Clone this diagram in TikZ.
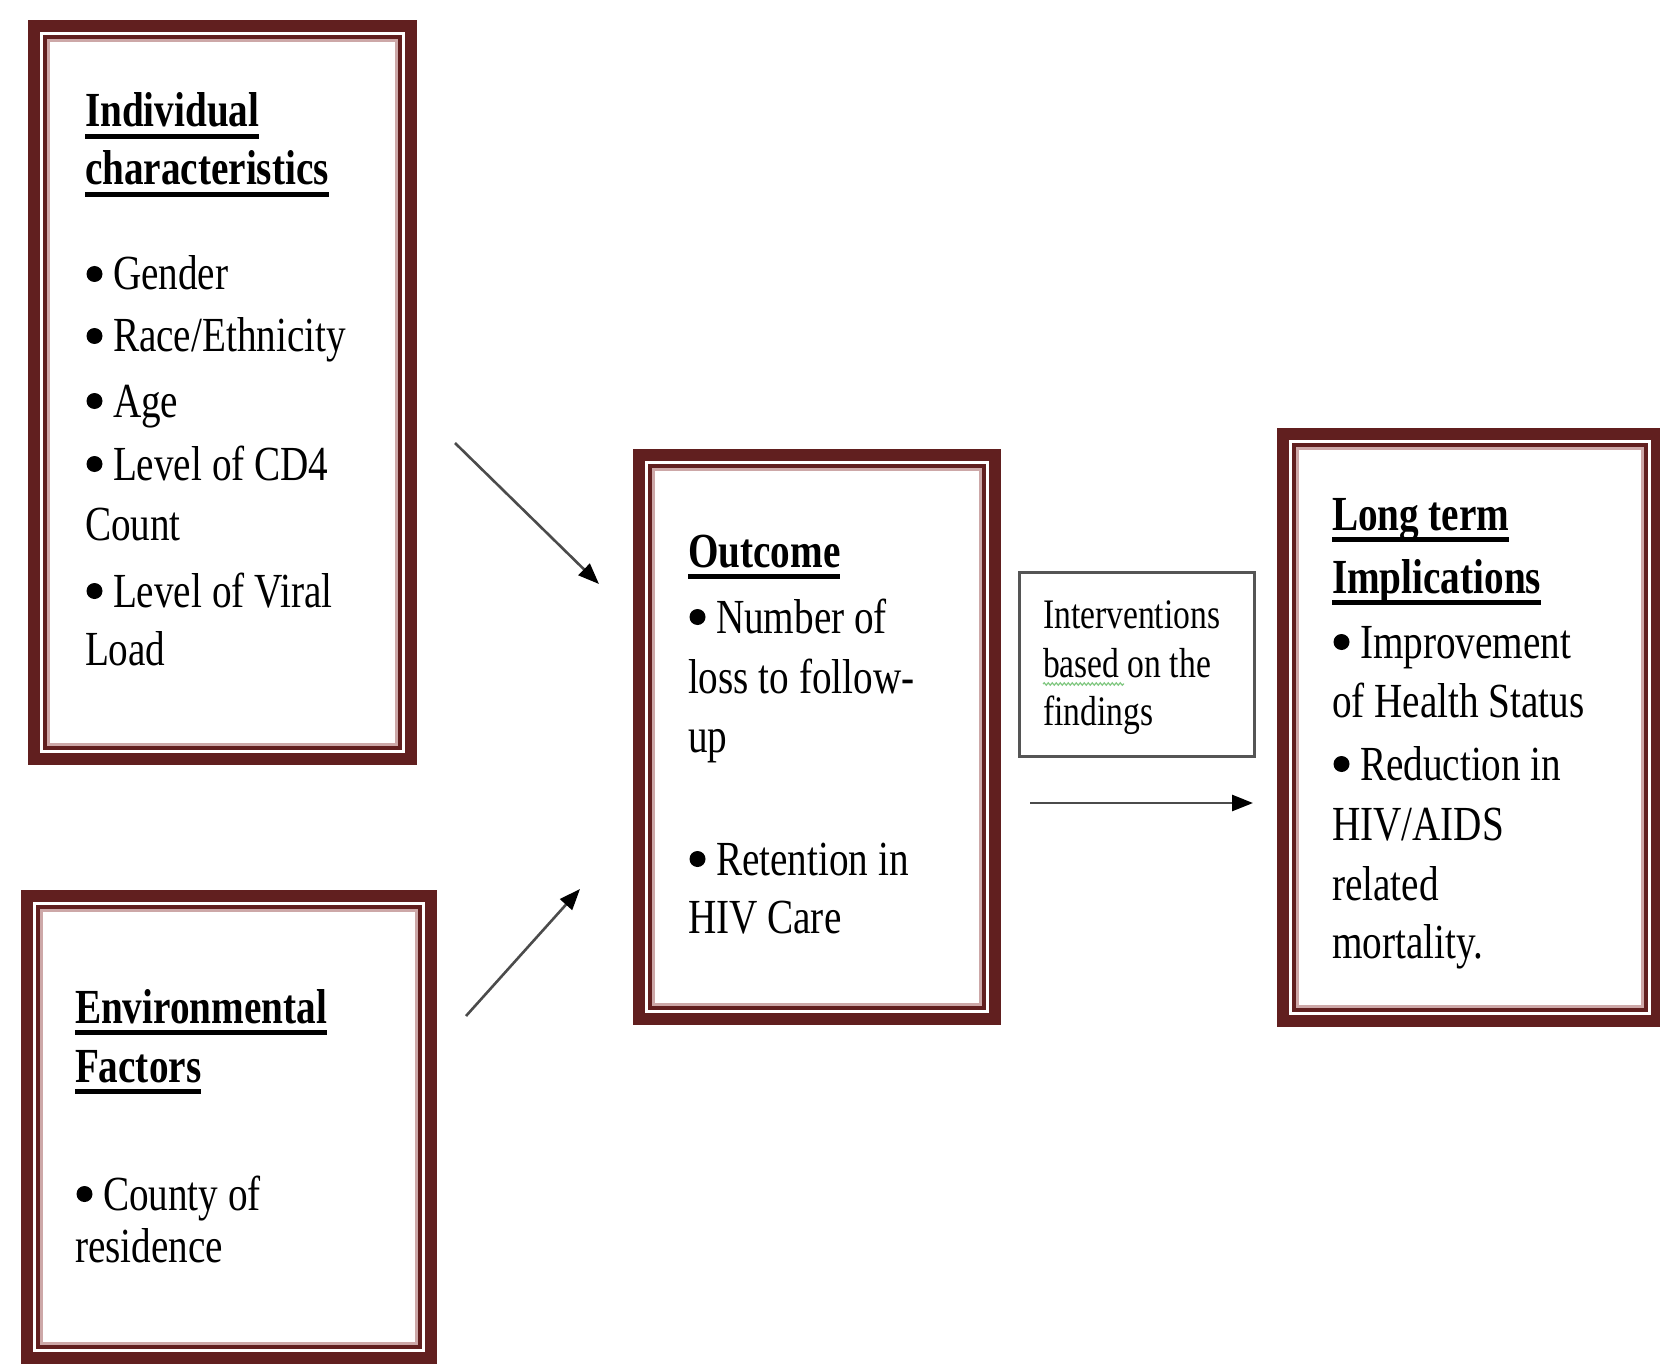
\documentclass[tikz,border=0pt]{standalone}
\usepackage{fontspec}
\setmainfont{Liberation Serif}[FakeStretch=0.8]
\usetikzlibrary{arrows.meta,decorations.pathmorphing}
\definecolor{brd}{RGB}{97,31,31}
\definecolor{brdpale}{RGB}{205,168,168}
\definecolor{arrgray}{RGB}{75,75,75}
\definecolor{boxgray}{RGB}{85,85,85}
\definecolor{spell}{RGB}{130,200,130}
\newcommand\myul[1]{\setbox0\hbox{#1}\rlap{\rule[-12pt]{\wd0}{5pt}}\box0}
\newcommand\bu{\hspace*{28pt}}
\newcommand\inframes[1]{%
  \draw[brd, line width=4pt] ([shift={(11,11)}]#1.north west) rectangle ([shift={(-11,-11)}]#1.south east);
  \draw[brdpale, line width=2.5pt] ([shift={(14.5,14.5)}]#1.north west) rectangle ([shift={(-14.5,-14.5)}]#1.south east);}
\tikzset{
  frame/.style={draw=brd, line width=12pt, inner sep=0pt, outer sep=0pt, anchor=north west, rectangle},
  txt/.style={anchor=base west, inner sep=0pt, outer sep=0pt, font=\fontsize{49}{60}\selectfont},
  stxt/.style={anchor=base west, inner sep=0pt, outer sep=0pt, font=\fontsize{42}{49}\selectfont},
  arr/.style={draw=arrgray, line width=2.6pt, -{Triangle[length=21pt,width=16pt,color=black]}},
  bulletdot/.style={fill=black},
}
\begin{document}
\begin{tikzpicture}[x=1pt,y=-1pt]
\useasboundingbox (0,0) rectangle (1660,1364);
% boxes
\node[frame, minimum width=377pt, minimum height=733pt] (b1) at (34,26) {};
\inframes{b1}
\node[frame, minimum width=404pt, minimum height=462pt] (b2) at (27,896) {};
\inframes{b2}
\node[frame, minimum width=356pt, minimum height=564pt] (b3) at (639,455) {};
\inframes{b3}
\node[frame, minimum width=374pt, minimum height=587pt] (b4) at (1283,434) {};
\inframes{b4}
\node[draw=boxgray, line width=3pt, inner sep=0pt, outer sep=0pt, anchor=north west, minimum width=235pt, minimum height=184pt] (ib) at (1019.5,572.5) {};
% box 1 text
\node[txt] (t11) at (85,127) {\textbf{\myul{Individual}}};
\node[txt] (t12) at (85,185) {\textbf{\myul{characteristics}}};
\node[txt] (t13) at (85,290) {\bu Gender};
\node[txt] (t14) at (85,352) {\bu Race/Ethnicity};
\node[txt] (t15) at (85,417) {\bu Age};
\node[txt] (t16) at (85,480) {\bu Level of CD4};
\node[txt] (t17) at (85,540) {Count};
\node[txt] (t18) at (85,607) {\bu Level of Viral};
\node[txt] (t19) at (85,665) {Load};
% box 2 text
\node[txt] (t21) at (75,1023) {\textbf{\myul{Environmental}}};
\node[txt] (t22) at (75,1082) {\textbf{\myul{Factors}}};
\node[txt] (t23) at (75,1210) {\bu County of};
\node[txt] (t24) at (75,1262) {residence};
% box 3 text
\node[txt] (t31) at (688,567) {\textbf{\myul{Outcome}}};
\node[txt] (t32) at (688,633) {\bu Number of};
\node[txt] (t33) at (688,693) {loss to follow-};
\node[txt] (t34) at (688,752) {up};
\node[txt] (t35) at (688,875) {\bu Retention in};
\node[txt] (t36) at (688,933) {HIV Care};
% box 4 text
\node[txt] (t41) at (1332,530) {\textbf{\myul{Long term}}};
\node[txt] (t42) at (1332,593) {\textbf{\myul{Implications}}};
\node[txt] (t43) at (1332,658) {\bu Improvement};
\node[txt] (t44) at (1332,717) {of Health Status};
\node[txt] (t45) at (1332,780) {\bu Reduction in};
\node[txt] (t46) at (1332,840) {HIV/AIDS};
\node[txt] (t47) at (1332,900) {related};
\node[txt] (t48) at (1332,958) {mortality.};
% bullets
\foreach \n in {t13,t14,t15,t16,t18,t23,t32,t35,t43,t45}
  \fill[bulletdot] ([shift={(9.5,-16)}]\n.base west) circle[radius=8pt];
% interventions text
\node[stxt] (i1) at (1043,628) {Interventions};
\node[stxt] (i2) at (1043,677) {based on the};
\node[stxt] (i3) at (1043,725) {findings};
\coordinate (sq1) at (1043,684);
\coordinate (sq2) at (1124,684);
\draw[spell, line width=1.2pt, decorate, decoration={snake, amplitude=1.2pt, segment length=4pt}] (sq1) -- (sq2);
% arrows
\coordinate (a1s) at (455,443);
\coordinate (a1e) at (599,584);
\coordinate (a2s) at (466,1016);
\coordinate (a2e) at (580,889);
\coordinate (a3s) at (1030,803);
\coordinate (a3e) at (1253,803);
\draw[arr] (a1s) -- (a1e);
\draw[arr] (a2s) -- (a2e);
\draw[arr] (a3s) -- (a3e);
\end{tikzpicture}
\end{document}
